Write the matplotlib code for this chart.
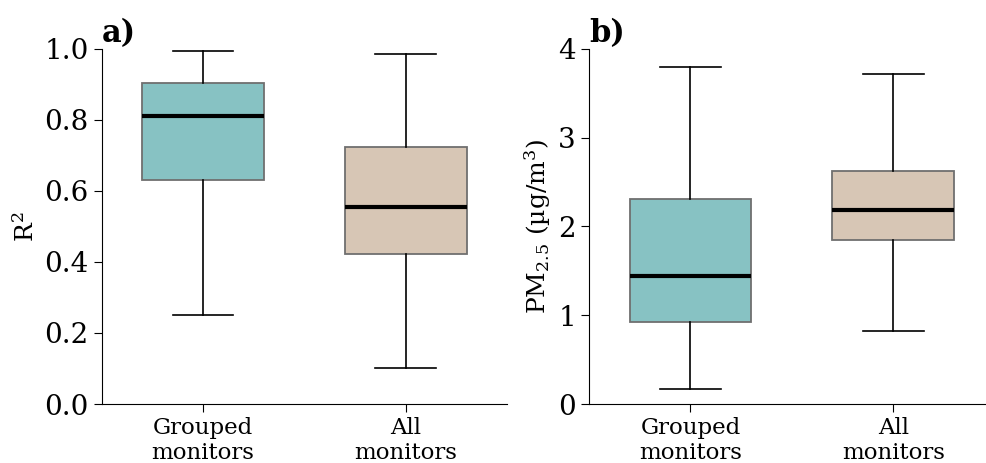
import matplotlib
matplotlib.use("Agg")
import matplotlib.pyplot as plt

plt.rcParams['font.family'] = 'DejaVu Serif'
plt.rcParams['mathtext.fontset'] = 'dejavuserif'

# estimated box statistics
groups = ["Grouped\nmonitors", "All\nmonitors"]
colors = ["#87c2c3", "#d7c6b5"]

r2_whislo = [0.251, 0.101]
r2_q1 = [0.631, 0.423]
r2_med = [0.811, 0.555]
r2_q3 = [0.904, 0.724]
r2_whishi = [0.994, 0.986]

pm_whislo = [0.169, 0.823]
pm_q1 = [0.924, 1.848]
pm_med = [1.442, 2.186]
pm_q3 = [2.31, 2.625]
pm_whishi = [3.797, 3.718]


def make_stats(lo, q1, med, q3, hi):
    out = []
    for i in range(len(lo)):
        out.append(dict(whislo=lo[i], q1=q1[i], med=med[i], q3=q3[i],
                        whishi=hi[i], fliers=[]))
    return out


def draw(ax, stats, ylabel, letter):
    bp = ax.bxp(stats, positions=[0, 1], widths=0.6, patch_artist=True,
                showfliers=False,
                boxprops=dict(edgecolor="#6f6f6f", linewidth=1.3),
                medianprops=dict(color="black", linewidth=3),
                whiskerprops=dict(color="black", linewidth=1.2),
                capprops=dict(color="black", linewidth=1.2))
    for patch, c in zip(bp['boxes'], colors):
        patch.set_facecolor(c)
    ax.set_xlim(-0.5, 1.5)
    ax.set_xticks([0, 1])
    ax.set_xticklabels(groups, fontsize=16.5, linespacing=1.15)
    ax.tick_params(axis='y', labelsize=20, length=6)
    ax.tick_params(axis='x', length=6)
    ax.set_ylabel(ylabel, fontsize=18)
    ax.spines['top'].set_visible(False)
    ax.spines['right'].set_visible(False)
    ax.text(0.0, 1.0, letter, transform=ax.transAxes, fontsize=22,
            fontweight='bold', va='bottom', ha='left')


fig = plt.figure(figsize=(9.87, 4.63), dpi=100)
ax1 = fig.add_axes([0.103, 0.1274, 0.411, 0.767])
ax2 = fig.add_axes([0.5968, 0.1274, 0.411, 0.767])

draw(ax1, make_stats(r2_whislo, r2_q1, r2_med, r2_q3, r2_whishi), "R$^2$", "a)")
ax1.set_ylim(0, 1.0)
ax1.set_yticks([0, 0.2, 0.4, 0.6, 0.8, 1.0])
ax1.set_yticklabels(["0.0", "0.2", "0.4", "0.6", "0.8", "1.0"])

draw(ax2, make_stats(pm_whislo, pm_q1, pm_med, pm_q3, pm_whishi),
     "PM$_{2.5}$ (µg/m$^3$)", "b)")
ax2.set_ylim(0, 4)
ax2.set_yticks([0, 1, 2, 3, 4])

fig.savefig("out.png", dpi=100)
